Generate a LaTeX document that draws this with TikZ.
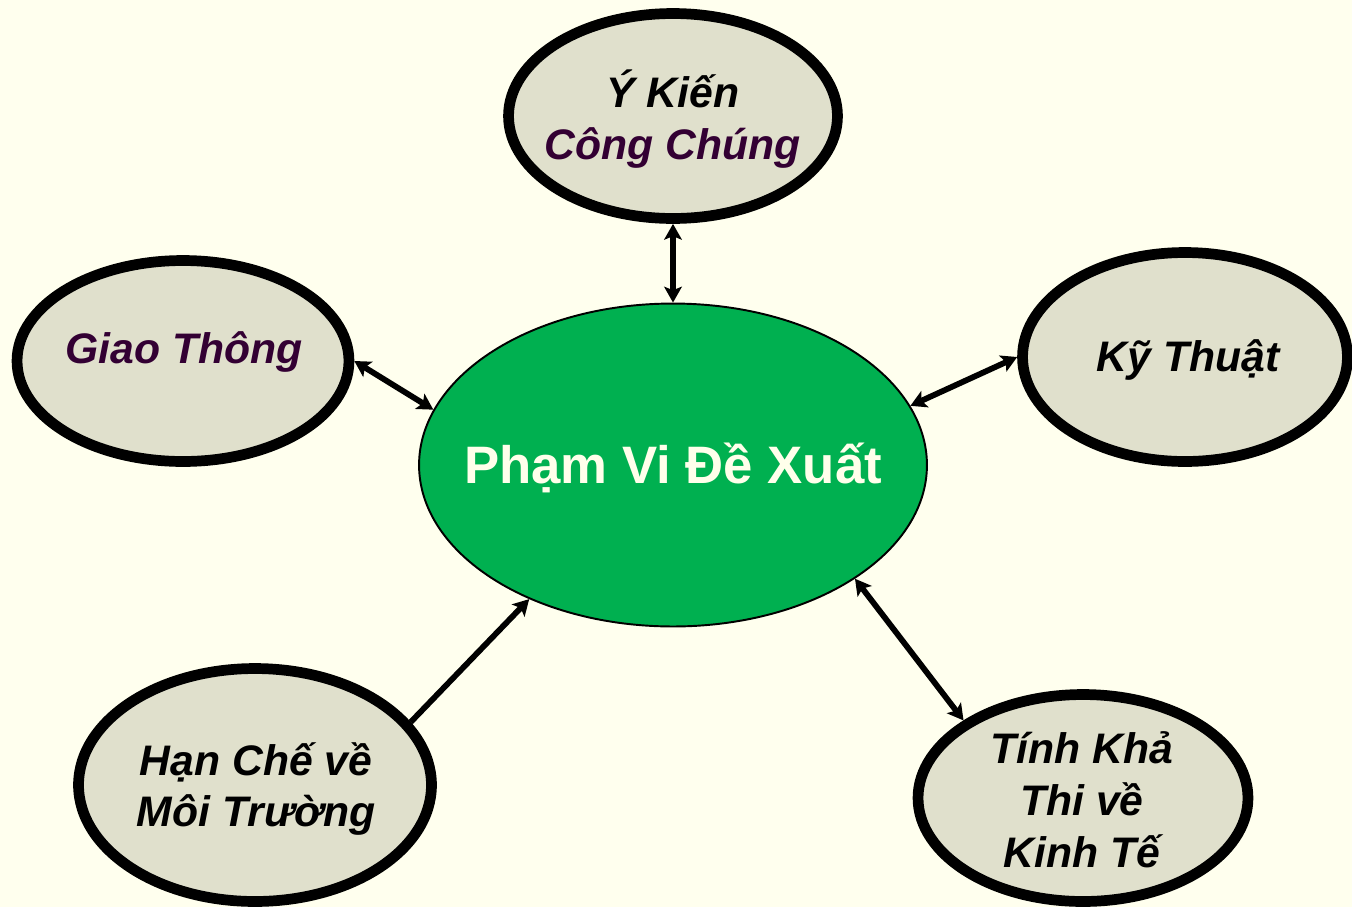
\documentclass[tikz,border=0pt]{standalone}
\usepackage{fontspec}
\setmainfont{Liberation Sans}
\usetikzlibrary{shapes.geometric,arrows.meta}
\definecolor{bgc}{RGB}{255,255,238}
\definecolor{fillc}{RGB}{224,224,204}
\definecolor{greenc}{RGB}{0,176,80}
\definecolor{purp}{RGB}{51,0,51}
\definecolor{cream}{RGB}{255,255,235}
\begin{document}
\begin{tikzpicture}[x=0.02cm,y=-0.02cm,
  side/.style={ellipse,draw=black,line width=6.1pt,fill=fillc,inner sep=0pt},
  sidetext/.style={align=center,inner sep=0pt,font=\fontsize{24.3}{29.5}\selectfont\bfseries\itshape},
  link/.style={line width=3.3pt,draw=black},
  >={Stealth[length=9pt,width=10pt,inset=2pt]}]
\fill[bgc] (0,0) rectangle (1352,907);
\useasboundingbox (0,0) rectangle (1352,907);
\node[ellipse,draw=black,line width=1.1pt,fill=greenc,inner sep=0pt,
  minimum width=10.16cm,minimum height=6.46cm] (ctr) at (673,465) {};
\node[inner sep=0pt,text=cream,font=\fontsize{30}{36}\selectfont\bfseries] (ctrt) at (673,468) {Phạm Vi Đề Xuất};
\node[side,minimum width=6.58cm,minimum height=4.1cm] (top) at (673,116) {};
\node[sidetext] (topt) at (673,119) {Ý Kiến\\\textcolor{purp}{Công Chúng}};
\node[side,minimum width=6.64cm,minimum height=4.02cm] (giao) at (183,361) {};
\node[sidetext,text=purp] (giaot) at (184,352) {Giao Thông};
\node[side,minimum width=6.5cm,minimum height=4.18cm] (ky) at (1185,357) {};
\node[sidetext] (kyt) at (1188,360) {Kỹ Thuật};
\node[side,minimum width=7.06cm,minimum height=4.66cm] (han) at (255,785) {};
\node[sidetext] (hant) at (256,789) {Hạn Chế về\\Môi Trường};
\node[side,minimum width=6.6cm,minimum height=4.14cm] (tinh) at (1083,798) {};
\node[sidetext] (tinht) at (1082,800) {Tính Khả\\Thi về\\Kinh Tế};
\draw[link,<->] (top.south) -- (ctr.north);
\draw[link,<->] (giao.east) -- (ctr.167);
\draw[link,<->] (ky.west) -- (ctr.14);
\draw[link,->] (han.22) -- (ctr.223);
\draw[link,<->] (ctr.-32) -- (tinh.147);
\end{tikzpicture}
\end{document}
